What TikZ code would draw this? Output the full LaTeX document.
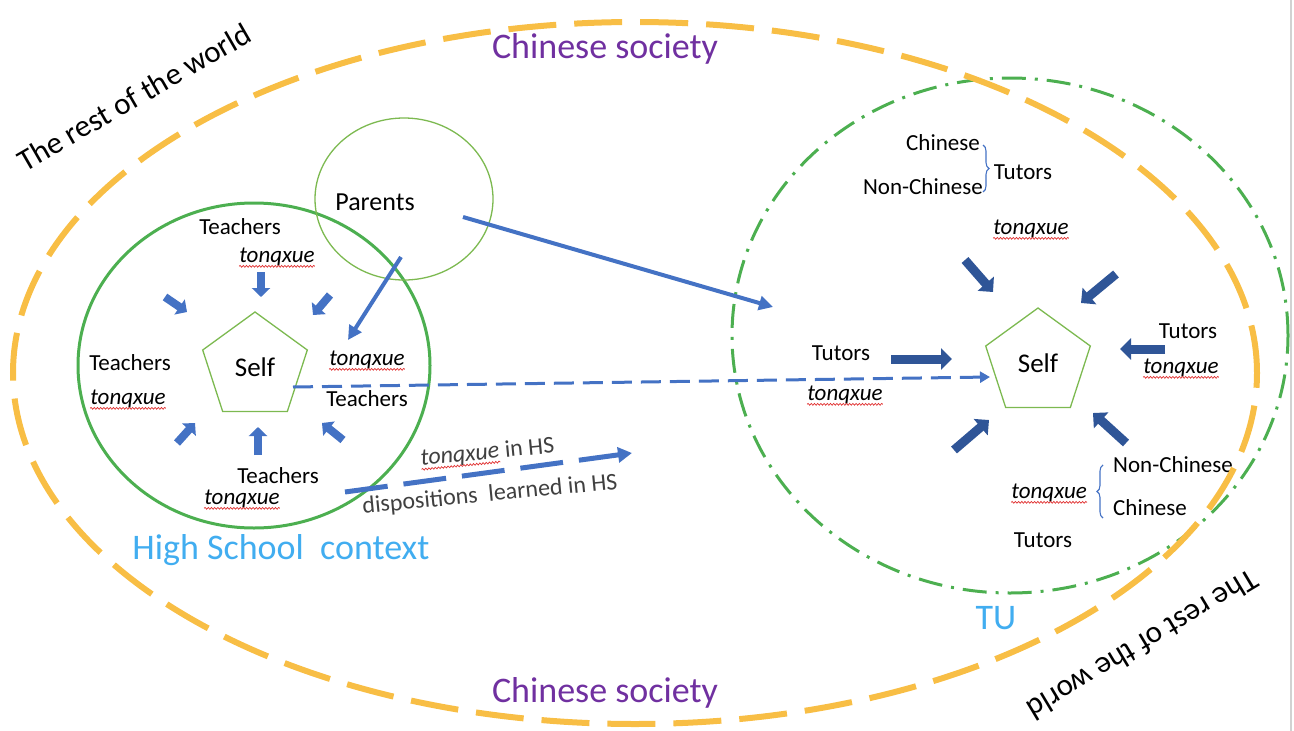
\documentclass[tikz,border=0pt]{standalone}
\usepackage{fontspec}
\setmainfont{Carlito}
\usetikzlibrary{arrows.meta,shapes.geometric,decorations.pathmorphing,decorations.pathreplacing}
\definecolor{gold}{HTML}{F8BE45}
\definecolor{hsgreen}{HTML}{4CAF50}
\definecolor{lightgreen}{HTML}{7CB950}
\definecolor{hsblue}{HTML}{4472C4}
\definecolor{tublue}{HTML}{2F5597}
\definecolor{skyblue}{HTML}{41ADF0}
\definecolor{society}{HTML}{7030A0}
\definecolor{squigred}{HTML}{E03131}
\definecolor{notegray}{HTML}{404040}
\begin{document}
\begin{tikzpicture}[x=1pt,y=-1pt,
  lbl/.style={inner sep=0pt, font=\fontsize{23}{27}\selectfont},
  tq/.style={inner sep=0pt, font=\fontsize{23}{27}\selectfont\itshape},
  squig/.style={draw=squigred, line width=0.7pt, decorate,
    decoration={snake, amplitude=0.9pt, segment length=3.2pt}},
  selfbox/.style={regular polygon, regular polygon sides=5, minimum size=110pt,
    inner sep=0pt, draw=lightgreen, line width=1.3pt, font=\fontsize{27}{30}\selectfont},
  blk/.style={draw=hsblue, line width=8pt, -{Triangle[width=18pt,length=9pt]}},
  dblk/.style={draw=tublue, line width=9pt, -{Triangle[width=21pt,length=11pt]}},
  thinarr/.style={draw=hsblue, line width=4pt, -{Triangle[width=14pt,length=14pt]}},
  region/.style={inner sep=0pt, font=\fontsize{36}{40}\selectfont},
  world/.style={inner sep=0pt, font=\fontsize{31}{34}\selectfont},
  brace/.style={draw=hsblue, line width=1.1pt, decorate, decoration={brace, amplitude=6pt}},
  note/.style={inner sep=0pt, text=notegray, font=\fontsize{24}{28}\selectfont}]
\useasboundingbox (0,0) rectangle (1294,731);
\draw[gray!35, line width=1.5pt] (1291,0) -- (1291,731);

% high school circle, parents circle, university ellipse
\draw[hsgreen, line width=3pt] (254,365.5) ellipse [x radius=176pt, y radius=162.5pt];
\draw[lightgreen, line width=1.3pt] (404,199) ellipse [x radius=89pt, y radius=81pt];
\draw[hsgreen, line width=3pt, dash pattern=on 24pt off 9pt on 3pt off 9pt]
  (1010,335.5) ellipse [x radius=278pt, y radius=257.5pt];

% the self in each context
\node[selfbox] (selfL) at (255,367) {Self};
\node[selfbox] (selfR) at (1038,363) {Self};

% high school actors
\node[lbl] (t1) at (240,227) {Teachers};
\node[tq]  (q1) at (277,257) {tonqxue};
\node[lbl] (t2) at (130,363) {Teachers};
\node[tq]  (q2) at (128,399) {tonqxue};
\node[tq]  (q3) at (367,360) {tonqxue};
\node[lbl] (t3) at (367,399) {Teachers};
\node[lbl] (t4) at (278,476) {Teachers};
\node[tq]  (q4) at (242,499) {tonqxue};
\node[inner sep=0pt, font=\fontsize{26}{30}\selectfont] (parents) at (375,202) {Parents};

% university actors
\node[lbl, anchor=east] (c1) at (980,143) {Chinese};
\node[lbl, anchor=east] (n1) at (983,187) {Non-Chinese};
\node[lbl] (u1) at (1023,172) {Tutors};
\node[tq]  (q5) at (1031,229) {tonqxue};
\node[lbl] (u2) at (841,353) {Tutors};
\node[tq]  (q6) at (845,395) {tonqxue};
\node[lbl] (u3) at (1188,331) {Tutors};
\node[tq]  (q7) at (1181,368) {tonqxue};
\node[lbl, anchor=west] (n2) at (1113,465) {Non-Chinese};
\node[lbl, anchor=west] (c2) at (1113,508) {Chinese};
\node[tq, anchor=east] (q8) at (1087,493) {tonqxue};
\node[lbl] (u4) at (1043,540) {Tutors};

\draw[brace] (983,145) -- (983,192);
\draw[brace] (1103,518) -- (1103,465);

% what is carried from high school into university
\node[tq, font=\fontsize{24}{28}\selectfont\itshape, text=notegray, rotate=5.5] (hsq) at (460,456) {tonqxue};
\node[note, rotate=5.5, anchor=base west] (hsi) at (hsq.base east) {\ in HS};
\node[note, rotate=5.5] (disp) at (490,495) {dispositions\ \ learned in HS};

\foreach \n in {q1,q2,q3,q4,q5,q6,q7,q8,hsq}
  \draw[squig] (\n.south west) -- (\n.south east);

% context labels
\node[region, text=society] (cs1) at (605,49) {Chinese society};
\node[region, text=society] (cs2) at (605,693) {Chinese society};
\node[region, text=skyblue] (hsl) at (281,550) {High School\ \ context};
\node[region, text=skyblue] (tul) at (996,618) {TU};
\node[world, rotate=30] (w1) at (134,97) {The rest of the world};
\node[world, rotate=211] (w2) at (1143,645) {The rest of the world};

% Chinese society boundary
\draw[gold, line width=6pt, dash pattern=on 48pt off 18pt]
  (635,373) ellipse [x radius=622pt, y radius=351pt];

% influences on the self in high school
\coordinate (la1s) at (165,297); \coordinate (la1e) at (187,312);
\coordinate (la2s) at (261,272); \coordinate (la2e) at (261,297);
\coordinate (la3s) at (330,295); \coordinate (la3e) at (313,315);
\coordinate (la4s) at (177,443); \coordinate (la4e) at (195,423);
\coordinate (la5s) at (258,455); \coordinate (la5e) at (258,427);
\coordinate (la6s) at (343,440); \coordinate (la6e) at (322,423);
\foreach \i in {1,...,6} \draw[blk] (la\i s) -- (la\i e);

% influences on the self at university
\coordinate (ra1s) at (965,260);  \coordinate (ra1e) at (993,292);
\coordinate (ra2s) at (1116,274); \coordinate (ra2e) at (1081,303);
\coordinate (ra3s) at (1165,349); \coordinate (ra3e) at (1120,349);
\coordinate (ra4s) at (891,359);  \coordinate (ra4e) at (952,359);
\coordinate (ra5s) at (954,450);  \coordinate (ra5e) at (989,420);
\coordinate (ra6s) at (1126,443); \coordinate (ra6e) at (1093,413);
\foreach \i in {1,...,6} \draw[dblk] (ra\i s) -- (ra\i e);

% parents' influence
\coordinate (ps1) at (401,257); \coordinate (pe1) at (348,340);
\coordinate (ps2) at (463,217); \coordinate (pe2) at (773,307);
\draw[thinarr] (ps1) -- (pe1);
\draw[thinarr] (ps2) -- (pe2);

% the self moving on, and what goes with it
\coordinate (sd1) at (293,387); \coordinate (sd2) at (990,377);
\draw[hsblue, line width=3pt, dash pattern=on 20pt off 9pt,
  -{Triangle[width=11pt,length=10pt]}] (sd1) -- (sd2);
\coordinate (dd1) at (345,492); \coordinate (dd2) at (632,453);
\draw[hsblue, line width=5pt, dash pattern=on 43pt off 16pt,
  -{Triangle[width=15pt,length=14pt]}] (dd1) -- (dd2);
\end{tikzpicture}
\end{document}
